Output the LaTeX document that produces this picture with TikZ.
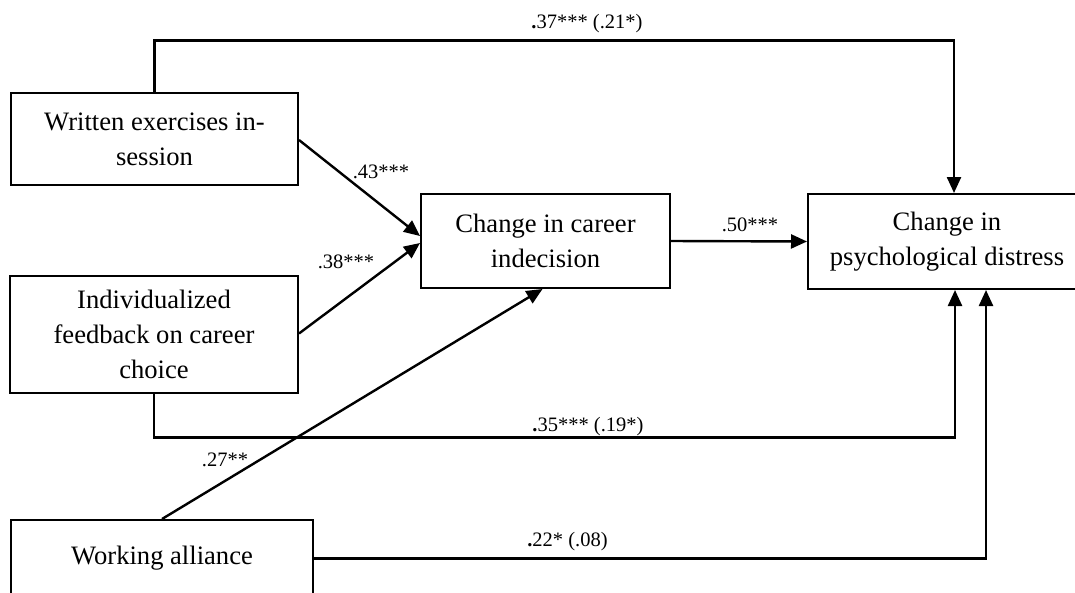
\documentclass[tikz,border=0pt]{standalone}
\usepackage{fontspec}
\setmainfont{Liberation Serif}
\usetikzlibrary{arrows.meta,calc}
\begin{document}
\begin{tikzpicture}[x=1pt,y=1pt,
  box/.style={draw,line width=2pt,align=center,inner sep=0pt,
    font=\fontsize{26.6}{35}\selectfont},
  conn/.style={line width=2pt},
  arr/.style={line width=2.4pt,-{Triangle[length=16pt,width=14pt]}},
  lab/.style={font=\fontsize{20.5}{24}\selectfont,anchor=base,inner sep=0pt}]
\useasboundingbox (0,0) rectangle (1075,-592);
% boxes
\node[box,minimum width=287pt,minimum height=92pt] (A) at (154.5,-139) {Written exercises in-\\session};
\node[box,minimum width=288pt,minimum height=117pt] (B) at (154,-334.5) {Individualized\\feedback on career\\choice};
\node[box,minimum width=302pt,minimum height=77pt] (W) at (162,-558.5) {Working alliance};
\node[box,minimum width=249pt,minimum height=94pt] (C) at (545.5,-241) {Change in career\\indecision};
\node[box,minimum width=278pt,minimum height=95pt] (D) at (947,-241.5) {Change in\\psychological distress};
% connectors
\draw[arr] (A.north) -- ++(0,51.5) -| ([xshift=7pt]D.north);
\draw[arr] (B.south) -- ++(0,-43.5) -| ([xshift=8pt]D.south);
\draw[arr] (W.east) -| ([xshift=39pt]D.south);
\draw[arr] ([yshift=-1pt]A.east) -- ([yshift=5pt]C.west);
\draw[arr] ([yshift=1pt]B.east) -- ([yshift=-2pt]C.west);
\draw[arr] (W.north) -- ([xshift=-3pt]C.south);
\draw[arr] (C.east) -- (D.west);
% labels
\node[lab] (l1) at (587,-28.5) {{\bfseries .}37*** (.21*)};
\node[lab] (l2) at (750,-231.7) {.50***};
\node[lab] (l3) at (381,-178) {.43***};
\node[lab] (l4) at (346,-268) {.38***};
\node[lab] (l5) at (588,-431.7) {{\bfseries .}35*** (.19*)};
\node[lab] (l6) at (567.5,-546.7) {{\bfseries .}22* (.08)};
\node[lab] (l7) at (225,-466) {.27**};
\end{tikzpicture}
\end{document}
